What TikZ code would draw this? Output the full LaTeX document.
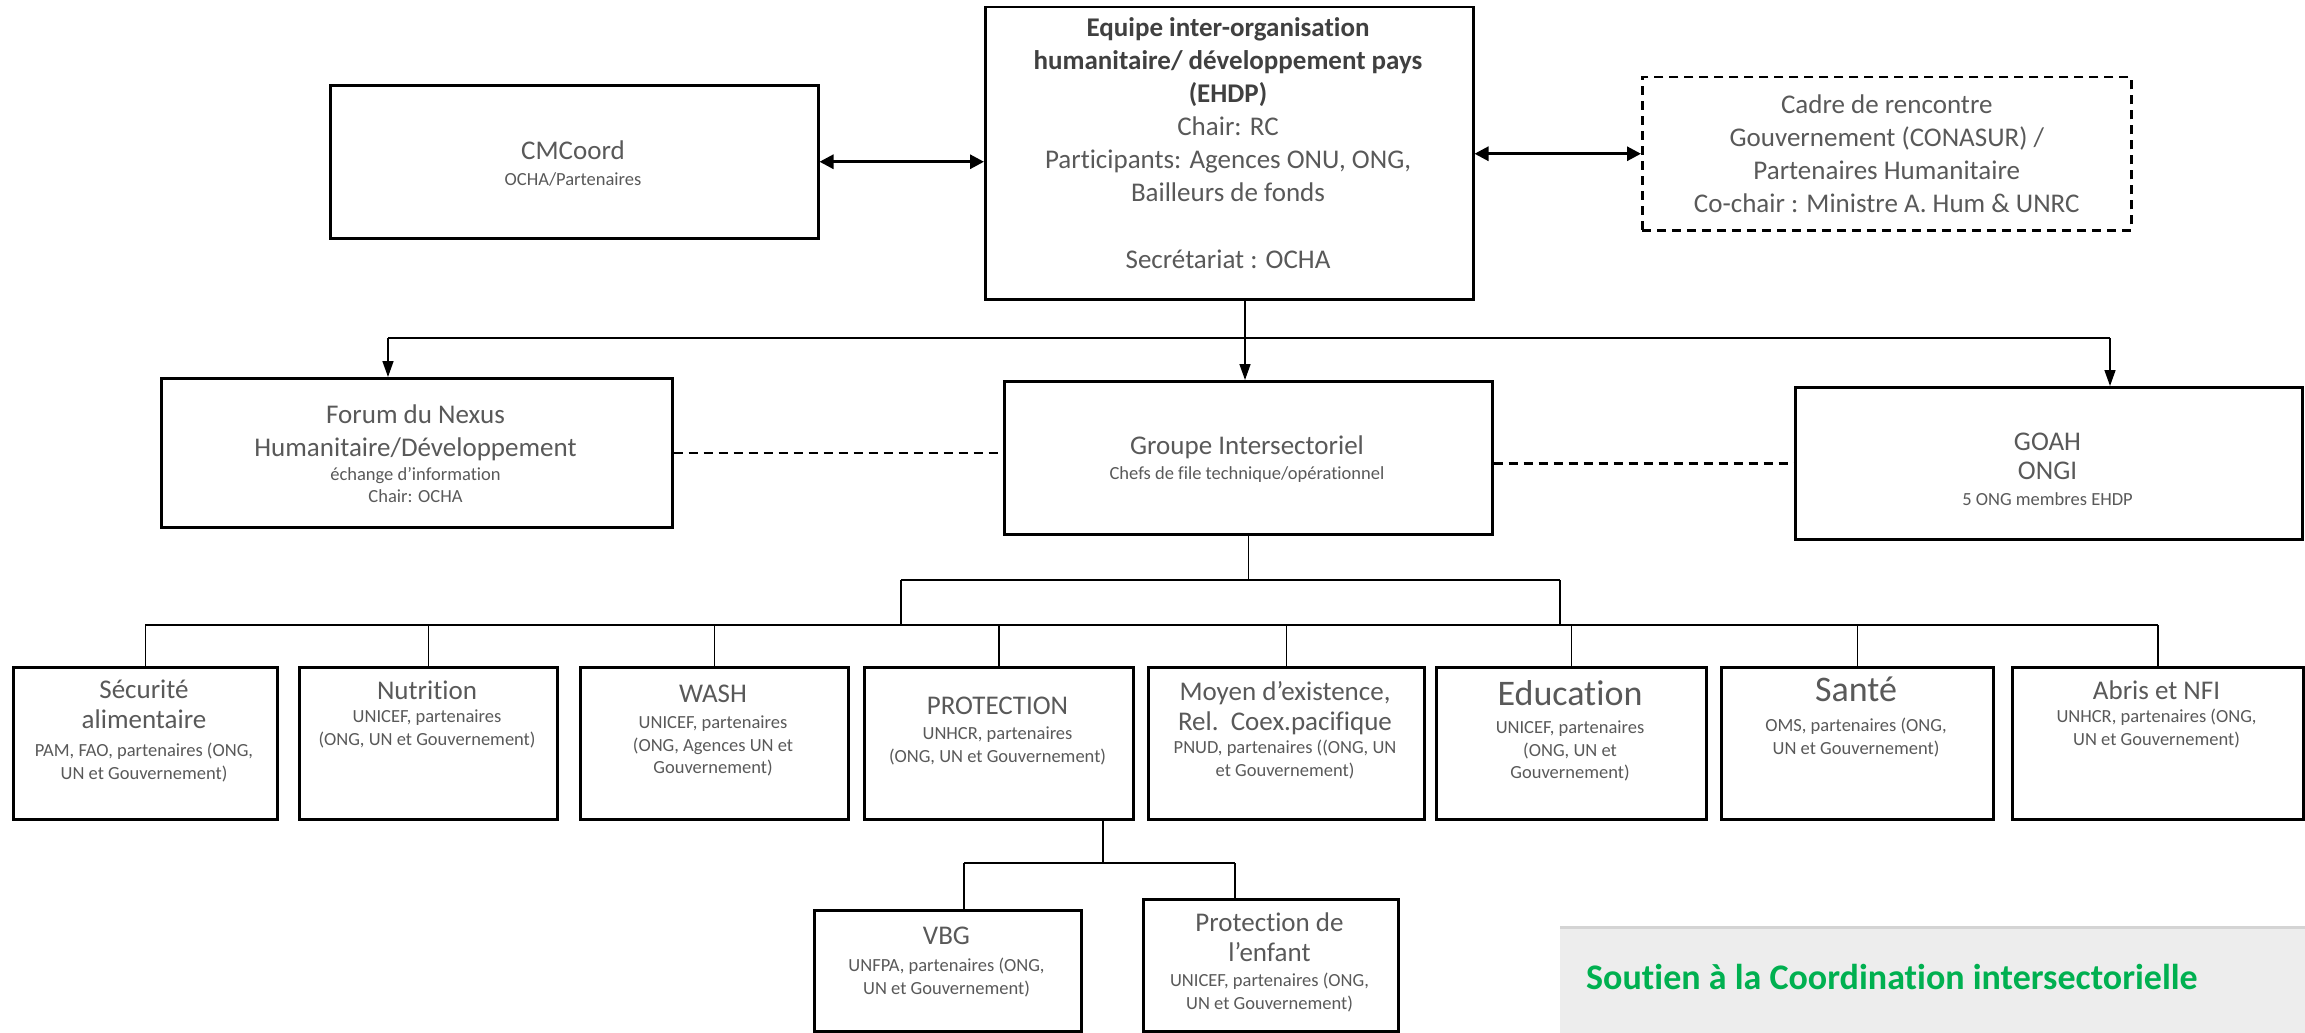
\documentclass[tikz,border=0pt]{standalone}
\usepackage{fontspec}
\setmainfont{Carlito}[Ligatures={NoCommon}]
\usetikzlibrary{arrows.meta,calc}
\definecolor{txt}{HTML}{595959}
\definecolor{txtb}{HTML}{404040}
\definecolor{greentxt}{HTML}{00B050}
\definecolor{greybg}{HTML}{EDEDED}
\definecolor{greyline}{HTML}{D4D4D4}
\newcommand\mkbox[6][boxst]{\node[#1,anchor=north west,minimum width={(#5-#3)*1pt},minimum height={(#6-#4)*1pt}] (#2) at (#3,#4) {};}
\newcommand\bt[1]{\textbf{\textcolor{txtb}{#1}}}
\begin{document}
\begin{tikzpicture}[x=1pt,y=-1pt,
 boxst/.style={draw=black, line width=2.5pt, inner sep=0pt, rectangle},
 dboxst/.style={draw=black, line width=2.5pt, dash pattern=on 9pt off 6pt, inner sep=0pt, rectangle},
 bigt/.style={font=\fontsize{27}{33}\selectfont, text=txt, align=center, inner sep=0pt, anchor=north},
 sect/.style={font=\fontsize{27}{30}\selectfont, text=txt, align=center, inner sep=0pt, anchor=north},
 huget/.style={font=\fontsize{36}{40}\selectfont, text=txt, align=center, inner sep=0pt, anchor=north},
 smallt/.style={font=\fontsize{18.5}{22.5}\selectfont, text=txt, align=center, inner sep=0pt, anchor=north},
 conn/.style={line width=1.5pt, draw=black},
 darrow/.style={line width=3pt, {Triangle[length=14pt,width=14pt]}-{Triangle[length=14pt,width=14pt]}},
 downarrow/.style={line width=1.5pt, -{Triangle[length=16pt,width=11pt]}},
 dashlink/.style={line width=2.5pt, dash pattern=on 9pt off 6pt},
]
\useasboundingbox (0,0) rectangle (2305,1033);
\fill[white] (0,0) rectangle (2305,1033);

% ---- top row
\mkbox{cm}{329}{84}{817}{237}
\mkbox{ehdp}{984}{6}{1472}{298}
\mkbox[dboxst]{cadre}{1641}{76}{2130}{229}

\node[bigt] (cmT) at (573,141) {CMCoord};
\node[smallt] (cmS) at (573,172) {OCHA/Partenaires};

\node[bigt] (ehdpT) at (1228,17) {\bt{Equipe inter-organisation}\\\bt{humanitaire/ développement pays}\\\bt{(EHDP)}\\Chair: RC\\Participants: Agences ONU, ONG,\\Bailleurs de fonds\\[34pt]Secrétariat : OCHA};

\node[bigt, anchor=center] (cadreT) at (cadre.center) {Cadre de rencontre\\Gouvernement (CONASUR) /\\Partenaires Humanitaire\\Co-chair : Ministre A. Hum \& UNRC};

\draw[darrow] (cm.east) -- (cm.east -| ehdp.west);
\draw[darrow] (cadre.west -| ehdp.east) -- (cadre.west);

% ---- second row
\mkbox{forum}{160}{377}{671}{526}
\mkbox{grp}{1003}{380}{1491}{533}
\mkbox{goah}{1794}{386}{2301}{538}

\node[bigt] (forumT) at (415.5,405) {Forum du Nexus\\Humanitaire/Développement};
\node[smallt] (forumS) at (415.5,467) {échange d’information\\Chair: OCHA};
\node[bigt] (grpT) at (1247,436) {Groupe Intersectoriel};
\node[smallt] (grpS) at (1247,466) {Chefs de file technique/opérationnel};
\node[bigt] (goahT) at (2047.5,433) {GOAH\\[-4pt]ONGI};
\node[smallt] (goahS) at (2047.5,492) {5 ONG membres EHDP};

\coordinate (hub) at (1245,338);
\coordinate (hl) at (388,338);
\coordinate (hr) at (2110,338);
\draw[conn] (hub |- ehdp.south) -- (hub);
\draw[downarrow] (hub) -- (hub |- grp.north);
\draw[conn] (hl) -- (hr);
\draw[downarrow] (hl) -- (hl |- forum.north);
\draw[downarrow] (hr) -- (hr |- goah.north);

\draw[dashlink] (forum.east) -- (forum.east -| grp.west);
\draw[dashlink] (goah.west -| grp.east) -- (goah.west);

% ---- sector row
\mkbox{sec}{12}{666}{276}{818}
\mkbox{nut}{298}{666}{556}{818}
\mkbox{wash}{579}{666}{847}{818}
\mkbox{prot}{863}{666}{1132}{818}
\mkbox{moy}{1147}{666}{1423}{818}
\mkbox{edu}{1435}{666}{1705}{818}
\mkbox{san}{1720}{666}{1992}{818}
\mkbox{abr}{2011}{666}{2302}{818}

\node[sect] (secT) at (144,680) {Sécurité\\alimentaire};
\node[smallt] (secS) at (144,743) {PAM, FAO, partenaires (ONG,\\UN et Gouvernement)};
\node[sect] (nutT) at (427,681) {Nutrition};
\node[smallt] (nutS) at (427,710) {UNICEF, partenaires\\(ONG, UN et Gouvernement)};
\node[sect] (washT) at (713,685) {WASH};
\node[smallt] (washS) at (713,716) {UNICEF, partenaires\\(ONG, Agences UN et\\Gouvernement)};
\node[sect] (protT) at (997.5,697) {PROTECTION};
\node[smallt] (protS) at (997.5,727) {UNHCR, partenaires\\(ONG, UN et Gouvernement)};
\node[sect] (moyT) at (1285,681) {Moyen d’existence,\\Rel.\ \ Coex.pacifique};
\node[smallt] (moyS) at (1285,740) {PNUD, partenaires ((ONG, UN\\et Gouvernement)};
\node[huget] (eduT) at (1570,680) {Education};
\node[smallt] (eduS) at (1570,721) {UNICEF, partenaires\\(ONG, UN et\\Gouvernement)};
\node[huget] (sanT) at (1856,677) {Santé};
\node[smallt] (sanS) at (1856,718) {OMS, partenaires (ONG,\\UN et Gouvernement)};
\node[sect] (abrT) at (2156.5,681) {Abris et NFI};
\node[smallt] (abrS) at (2156.5,709) {UNHCR, partenaires (ONG,\\UN et Gouvernement)};

\coordinate (bus) at (0,625);
\coordinate (bl) at (901,580);
\coordinate (br) at (1560,580);
\draw[conn] (grp.south) -- (grp.south |- bl);
\draw[conn] (bl) -- (br);
\draw[conn] (bl) -- (bl |- bus);
\draw[conn] (br) -- (br |- bus);
\draw[conn] (sec.north |- bus) -- (abr.north |- bus);
\foreach \n in {sec,nut,wash,prot,moy,edu,san,abr} \draw[conn] (\n.north |- bus) -- (\n.north);

% ---- protection sub-groups
\mkbox{vbg}{813}{909}{1080}{1030}
\mkbox{enf}{1142}{898}{1397}{1030}
\node[sect] (vbgT) at (946.5,927) {VBG};
\node[smallt] (vbgS) at (946.5,958) {UNFPA, partenaires (ONG,\\UN et Gouvernement)};
\node[sect] (enfT) at (1269.5,913) {Protection de\\l’enfant};
\node[smallt] (enfS) at (1269.5,973) {UNICEF, partenaires (ONG,\\UN et Gouvernement)};

\coordinate (pj) at (1103,863);
\coordinate (pl) at (964,863);
\coordinate (pr) at (1235,863);
\draw[conn] (pj |- prot.south) -- (pj);
\draw[conn] (pl) -- (pr);
\draw[conn] (pl) -- (pl |- vbg.north);
\draw[conn] (pr) -- (pr |- enf.north);

% ---- grey note
\mkbox[fill=greybg, draw=none, inner sep=0pt]{note}{1560}{927}{2305}{1033}
\draw[greyline, line width=3pt] (note.north west) -- (note.north east);
\node[font=\fontsize{36}{42}\selectfont\bfseries, text=greentxt, anchor=west, inner sep=0pt] (noteT) at (1586,977) {Soutien à la Coordination intersectorielle};
\end{tikzpicture}
\end{document}
